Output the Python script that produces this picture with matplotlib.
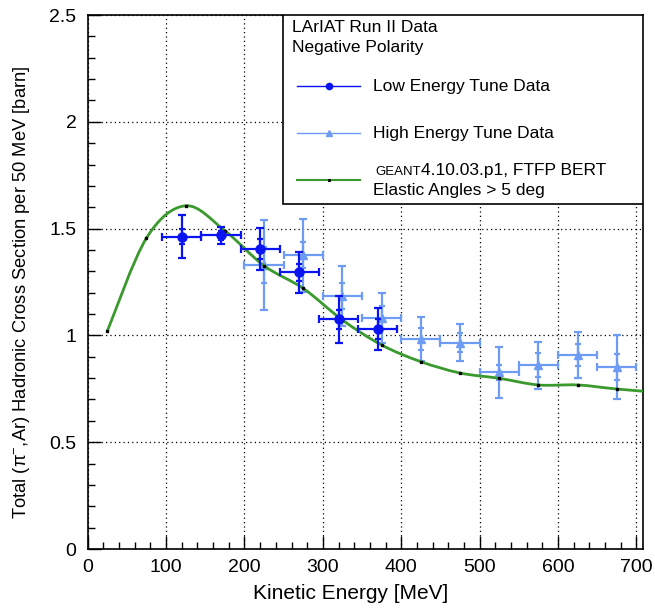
import numpy as np
import matplotlib
matplotlib.use('Agg')
import matplotlib.pyplot as plt
from matplotlib.path import Path
from matplotlib.patches import PathPatch, Rectangle
from matplotlib.lines import Line2D

plt.rcParams['font.family'] = ['Liberation Sans', 'DejaVu Sans']
plt.rcParams['mathtext.fontset'] = 'custom'
plt.rcParams['mathtext.rm'] = 'Liberation Sans'
plt.rcParams['mathtext.it'] = 'Liberation Sans:italic'

# low energy tune data (dark blue circles)
low_e = [120, 170, 220, 270, 320, 370]
low_xs = [1.462, 1.468, 1.404, 1.295, 1.075, 1.030]
low_err = [0.10, 0.04, 0.10, 0.095, 0.11, 0.10]
low_stat = [0.035, 0.02, 0.045, 0.04, 0.045, 0.045]

# high energy tune data (light blue triangles)
high_e = [225, 275, 325, 375, 425, 475, 525, 575, 625, 675]
high_xs = [1.328, 1.375, 1.183, 1.083, 0.983, 0.966, 0.827, 0.861, 0.908, 0.851]
high_err = [0.21, 0.17, 0.14, 0.117, 0.104, 0.088, 0.12, 0.11, 0.106, 0.15]
high_stat = [0.085, 0.06, 0.06, 0.055, 0.05, 0.045, 0.035, 0.055, 0.05, 0.06]

bin_half = 25

# GEANT prediction
geant_e = [25, 75, 125, 175, 225, 275, 325, 375, 425, 475, 525, 575, 625, 675, 725]
geant_xs = [1.02, 1.456, 1.607, 1.49, 1.326, 1.22, 1.072, 0.955, 0.877, 0.824,
            0.799, 0.768, 0.768, 0.749, 0.734]

dark = '#0a14f0'
light = '#6e9cf5'
green = '#3a9a2e'

fig = plt.figure(figsize=(6.55, 6.08), dpi=100)
ax = fig.add_axes([87.7 / 655, 1 - 549 / 608, 555 / 655, 534 / 608])

# light blue points
ax.errorbar(high_e, high_xs, xerr=bin_half, yerr=high_err, fmt='none', ecolor=light,
            elinewidth=1.6, capsize=3, capthick=1.6, zorder=3)
ax.errorbar(high_e, high_xs, yerr=high_stat, fmt='none', ecolor=light,
            elinewidth=1.6, capsize=2.5, capthick=1.6, zorder=3)
ax.plot(high_e, high_xs, ls='none', marker='^', ms=6, color=light, zorder=3)

# GEANT curve, smooth through the points
pts = np.column_stack([geant_e, geant_xs]).astype(float)
pad = np.vstack([pts[0], pts, pts[-1]])
verts = [pts[0]]
codes = [Path.MOVETO]
for i in range(len(pts) - 1):
    p0, p1, p2, p3 = pad[i], pad[i + 1], pad[i + 2], pad[i + 3]
    verts += [p1 + (p2 - p0) / 6, p2 - (p3 - p1) / 6, p2]
    codes += [Path.CURVE4] * 3
ax.add_patch(PathPatch(Path(verts, codes), fill=False, edgecolor=green, lw=2.0, zorder=4))
ax.plot(geant_e, geant_xs, ls='none', marker='s', ms=1.8, color='black', zorder=4)

# dark blue points
ax.errorbar(low_e, low_xs, xerr=bin_half, yerr=low_err, fmt='none', ecolor=dark,
            elinewidth=1.6, capsize=3, capthick=1.6, zorder=5)
ax.errorbar(low_e, low_xs, yerr=low_stat, fmt='none', ecolor=dark,
            elinewidth=1.6, capsize=2.5, capthick=1.6, zorder=5)
ax.plot(low_e, low_xs, ls='none', marker='o', ms=6.5, color=dark, zorder=5)

ax.set_xlim(0, 708)
ax.set_ylim(0, 2.5)
ax.set_xticks(np.arange(0, 701, 100))
ax.set_yticks([0, 0.5, 1, 1.5, 2, 2.5])
ax.set_yticklabels(['0', '0.5', '1', '1.5', '2', '2.5'])
ax.set_xticks(np.arange(0, 708, 20), minor=True)
ax.set_yticks(np.arange(0, 2.5, 0.1), minor=True)
ax.tick_params(which='both', direction='in', top=False, right=False, labelsize=14)
ax.tick_params(which='major', length=9.5, width=1)
ax.tick_params(which='minor', length=5, width=1)
ax.tick_params(axis='x', pad=7)
ax.tick_params(axis='y', pad=8)
ax.grid(True, which='major', color='black', ls=(0, (1, 2.5)), lw=0.9)
for s in ax.spines.values():
    s.set_linewidth(1.2)

ax.set_xlabel('Kinetic Energy [MeV]', fontsize=15)
ax.xaxis.set_label_coords(0.473, -0.065)
ax.set_ylabel(r'Total ($\mathregular{\pi^{-}}$,Ar) Hadronic Cross Section per 50 MeV [barn]',
              fontsize=13.2)
ax.yaxis.set_label_coords(-0.100, 0.481)

# legend box drawn by hand, ROOT style
ax.add_patch(Rectangle((0.352, 0.646), 0.648, 0.354, transform=ax.transAxes,
                       facecolor='white', edgecolor='black', lw=1.2, zorder=10))
fs = 12.5
ax.text(0.369, 0.976, 'LArIAT Run II Data', transform=ax.transAxes, fontsize=fs,
        va='center', zorder=11)
ax.text(0.369, 0.939, 'Negative Polarity', transform=ax.transAxes, fontsize=fs,
        va='center', zorder=11)
ax.add_line(Line2D([0.377, 0.491], [0.867, 0.867], transform=ax.transAxes, color=dark,
                   lw=1, zorder=11))
ax.add_line(Line2D([0.434], [0.867], transform=ax.transAxes, color=dark, marker='o',
                   ms=4.5, zorder=11))
ax.text(0.514, 0.867, 'Low Energy Tune Data', transform=ax.transAxes, fontsize=fs,
        va='center', zorder=11)
ax.add_line(Line2D([0.377, 0.491], [0.779, 0.779], transform=ax.transAxes, color=light,
                   lw=1, zorder=11))
ax.add_line(Line2D([0.434], [0.779], transform=ax.transAxes, color=light, marker='^',
                   ms=4, zorder=11))
ax.text(0.514, 0.779, 'High Energy Tune Data', transform=ax.transAxes, fontsize=fs,
        va='center', zorder=11)
ax.add_line(Line2D([0.377, 0.491], [0.691, 0.691], transform=ax.transAxes, color=green,
                   lw=1.5, zorder=11))
ax.add_line(Line2D([0.434], [0.691], transform=ax.transAxes, color='black', marker='s',
                   ms=1.2, zorder=11))
t1 = ax.text(0.518, 0.700, 'GEANT', transform=ax.transAxes, fontsize=9.5,
             va='baseline', zorder=11)
fig.canvas.draw()
bb = t1.get_window_extent()
x2 = ax.transAxes.inverted().transform((bb.x1, bb.y0))[0]
ax.text(x2, 0.700, '4.10.03.p1, FTFP BERT', transform=ax.transAxes, fontsize=fs,
        va='baseline', zorder=11)
ax.text(0.514, 0.672, 'Elastic Angles > 5 deg', transform=ax.transAxes, fontsize=fs,
        va='center', zorder=11)

fig.savefig('out.png', dpi=100)
